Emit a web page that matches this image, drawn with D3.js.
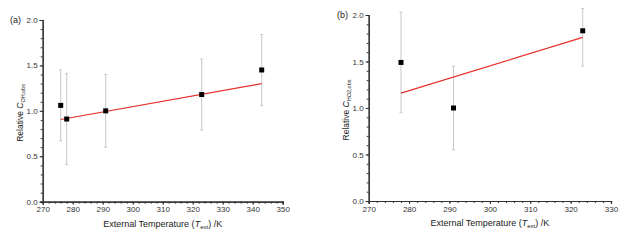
<!DOCTYPE html>
<html>
<head>
<meta charset="utf-8">
<script src="https://cdn.jsdelivr.net/npm/d3@7"></script>
<style>
  body { margin: 0; background: #fff; }
  svg { font-family: "Liberation Sans", Arial, sans-serif; }
</style>
</head>
<body>
<svg id="chart" width="627" height="243"></svg>
<script>
// panel (a): OH
const tempA = [276, 278, 291, 323, 343];
const valA = [1.06, 0.91, 1.0, 1.18, 1.45];
const loA = [0.67, 0.41, 0.6, 0.79, 1.06];
const hiA = [1.45, 1.41, 1.4, 1.57, 1.84];
const fitA = [[276, 0.905], [343, 1.30]];

// panel (b): HO2
const tempB = [278, 291, 323];
const valB = [1.49, 1.0, 1.83];
const loB = [0.95, 0.55, 1.45];
const hiB = [2.03, 1.45, 2.07];
const fitB = [[278, 1.16], [323, 1.76]];

const yTicks = [0, 0.5, 1.0, 1.5, 2.0];

const svg = d3.select('#chart');

function panel(cfg) {
  const g = svg.append('g');
  const x = d3.scaleLinear().domain(cfg.xDomain).range([cfg.left, cfg.right]);
  const y = d3.scaleLinear().domain([0, 2]).range([cfg.bottom, cfg.top]);

  // minor ticks
  const xAxisMinor = d3.axisBottom(x)
    .tickValues(d3.range(cfg.xDomain[0], cfg.xDomain[1] + 0.1, 2))
    .tickSize(2).tickFormat('');
  const yAxisMinor = d3.axisLeft(y)
    .tickValues(d3.range(0, 2.01, 0.1))
    .tickSize(2).tickFormat('');
  g.append('g').attr('transform', `translate(0,${cfg.bottom})`).call(xAxisMinor);
  g.append('g').attr('transform', `translate(${cfg.left},0)`).call(yAxisMinor);

  const xAxis = d3.axisBottom(x).tickValues(cfg.xTicks).tickSize(3).tickPadding(2)
    .tickFormat(d3.format('d'));
  const yAxis = d3.axisLeft(y).tickValues(yTicks).tickSize(3).tickPadding(2)
    .tickFormat(d3.format('.1f'));
  g.append('g').attr('transform', `translate(0,${cfg.bottom})`).call(xAxis);
  g.append('g').attr('transform', `translate(${cfg.left},0)`).call(yAxis);

  g.selectAll('.domain').attr('stroke', '#333').attr('stroke-width', 1.2);
  g.selectAll('.tick line').attr('stroke', '#333');
  g.selectAll('.tick text').attr('font-size', 8).attr('fill', '#333')
    .attr('font-family', '"Liberation Sans", Arial, sans-serif');

  // error bars
  const pts = cfg.temps.map((t, i) => ({ t, v: cfg.vals[i], lo: cfg.lo[i], hi: cfg.hi[i] }));
  const eb = g.append('g').attr('stroke', '#c8c8c8').attr('stroke-width', 1);
  eb.selectAll('line.bar').data(pts).enter().append('line')
    .attr('x1', d => x(d.t)).attr('x2', d => x(d.t))
    .attr('y1', d => y(d.lo)).attr('y2', d => y(d.hi));
  eb.selectAll('line.capt').data(pts).enter().append('line')
    .attr('x1', d => x(d.t) - 1.5).attr('x2', d => x(d.t) + 1.5)
    .attr('y1', d => y(d.hi)).attr('y2', d => y(d.hi));
  eb.selectAll('line.capb').data(pts).enter().append('line')
    .attr('x1', d => x(d.t) - 1.5).attr('x2', d => x(d.t) + 1.5)
    .attr('y1', d => y(d.lo)).attr('y2', d => y(d.lo));

  // fit line
  g.append('path').datum(cfg.fit)
    .attr('fill', 'none').attr('stroke', '#e8302a').attr('stroke-width', 1.2)
    .attr('d', d3.line().x(d => x(d[0])).y(d => y(d[1])));

  // markers
  g.selectAll('rect.pt').data(pts).enter().append('rect')
    .attr('x', d => x(d.t) - 2.5).attr('y', d => y(d.v) - 2.5)
    .attr('width', 5).attr('height', 5).attr('fill', '#000');

  // labels
  g.append('text').attr('x', cfg.tagX).attr('y', y(2) + 3)
    .attr('font-size', 9).attr('fill', '#222').text(cfg.tag);

  const xl = g.append('text').attr('x', (cfg.left + cfg.right) / 2).attr('y', cfg.bottom + 25)
    .attr('text-anchor', 'middle').attr('font-size', 9).attr('fill', '#222');
  xl.append('tspan').text('External Temperature (');
  xl.append('tspan').attr('font-style', 'italic').text('T');
  xl.append('tspan').attr('font-size', 6).attr('dy', 2).text('ext');
  xl.append('tspan').attr('dy', -2).text(') /K');

  const yl = g.append('text')
    .attr('transform', `translate(${cfg.left - 20},${(cfg.top + cfg.bottom) / 2 + 2}) rotate(-90)`)
    .attr('text-anchor', 'middle').attr('font-size', 8.5).attr('fill', '#222');
  yl.append('tspan').text('Relative ');
  yl.append('tspan').attr('font-style', 'italic').text('C');
  yl.append('tspan').attr('font-size', 5.5).attr('dy', 2).text(cfg.sub);
}

panel({
  xDomain: [270, 350], xTicks: d3.range(270, 351, 10),
  left: 42.7, right: 282.7, top: 20, bottom: 201.7,
  temps: tempA, vals: valA, lo: loA, hi: hiA, fit: fitA,
  tag: '(a)', tagX: 10, sub: 'OH,obs'
});

panel({
  xDomain: [270, 330], xTicks: d3.range(270, 331, 10),
  left: 368.7, right: 611, top: 15, bottom: 201,
  temps: tempB, vals: valB, lo: loB, hi: hiB, fit: fitB,
  tag: '(b)', tagX: 337, sub: 'HO2,obs'
});
</script>
</body>
</html>
